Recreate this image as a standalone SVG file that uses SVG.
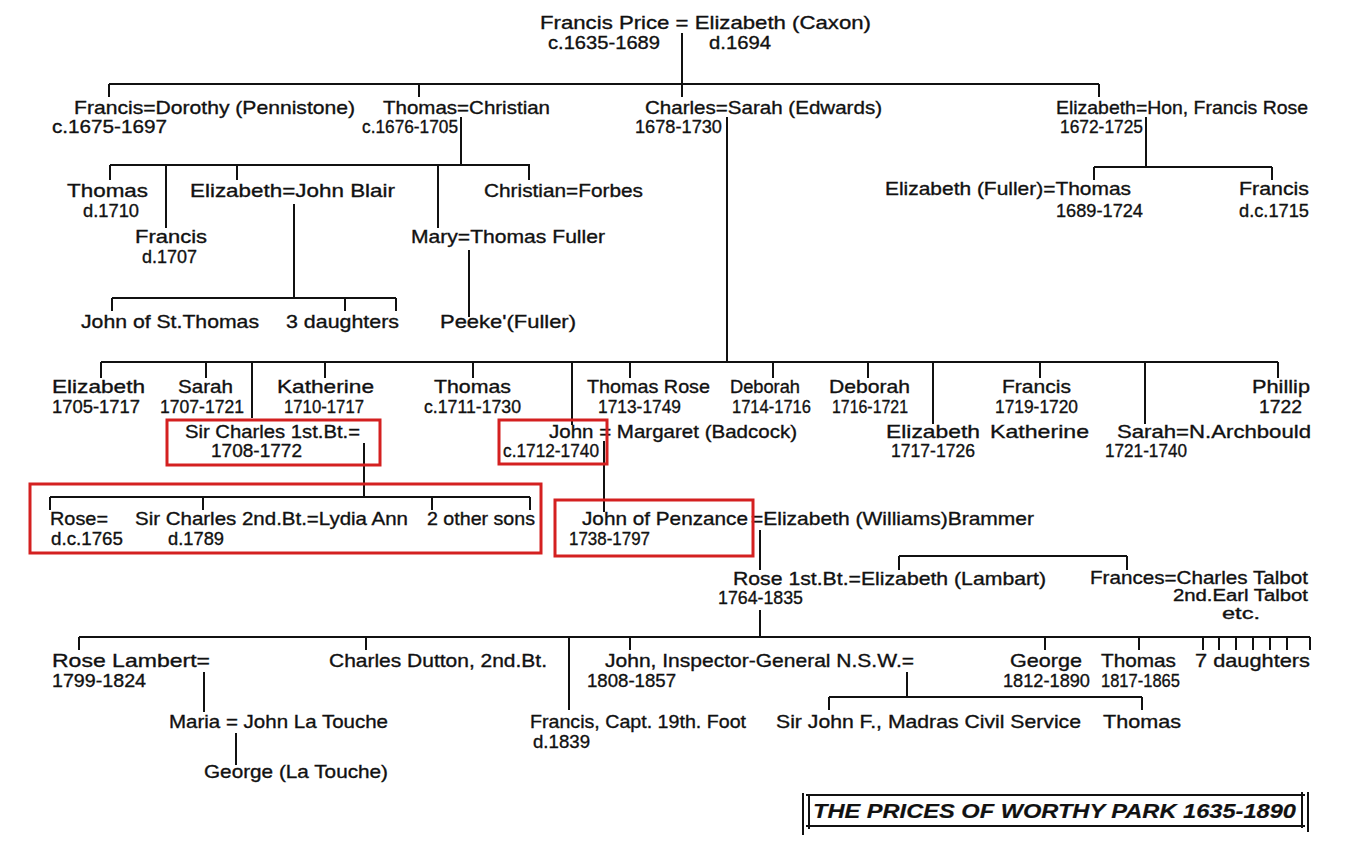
<svg xmlns="http://www.w3.org/2000/svg" width="1351" height="862" viewBox="0 0 1351 862">
<style>
text{font-family:"Liberation Sans",Arial,sans-serif;font-size:19px;fill:#111;stroke:#111;stroke-width:0.35}
.sm{font-size:16px}
.ln{stroke:#111;stroke-width:2;fill:none}
.box{stroke:#d42020;stroke-width:3;fill:none}
.title{font-family:"Liberation Sans",Arial,sans-serif;font-size:21px;font-weight:bold;font-style:italic;stroke-width:0.2}
</style>
<rect width="1351" height="862" fill="#fff"/>
<g id="connectors" class="ln">
<path d="M682 33V97M109 84H1099M109 84V97M419 84V97M1099 84V97"/>
<path d="M461 117V165M110 165H530M110 165V180M166 165V228M237 165V180M438 165V228M529 165V180"/>
<path d="M294 204V298M112 298H396M112 298V311M345 298V311M396 298V311M469 250V317"/>
<path d="M1146 117V167M1094 167H1272M1094 167V180M1272 167V180"/>
<path d="M727 117V362M101 362H1278M101 362V378M206 362V378M252 362V418M325 362V378M473 362V378M572 362V425M630 362V378M773 362V378M868 362V378M933 362V424M1040 362V378M1145 362V424M1278 362V378"/>
<path d="M364 443V497M50 497H530M50 497V510M203 497V510M432 497V510M530 497V510M604 441V512"/>
<path d="M760 530V570M899 556H1127M899 556V570M1127 556V570M760 610V637"/>
<path d="M79 637H1310M79 637V650M366 637V650M569 637V710M630 637V650M1045 637V650M1139 637V650M1203 637V650M1219 637V650M1236 637V650M1253 637V650M1270 637V650M1287 637V650M1310 637V650"/>
<path d="M204 672V712M236 733V765M907 672V697M829 697H1142M829 697V710M1142 697V710"/>
</g>
<g id="n-francis-price"><text x="540" y="29" lengthAdjust="spacingAndGlyphs" textLength="331">Francis Price = Elizabeth (Caxon)</text><text x="548" y="49" lengthAdjust="spacingAndGlyphs" textLength="112">c.1635-1689</text><text x="709" y="49" lengthAdjust="spacingAndGlyphs" textLength="62">d.1694</text></g>
<g id="n-francis"><text x="74" y="114" lengthAdjust="spacingAndGlyphs" textLength="281">Francis=Dorothy (Pennistone)</text><text x="52" y="133" lengthAdjust="spacingAndGlyphs" textLength="115">c.1675-1697</text></g>
<g id="n-thomas"><text x="383" y="114" lengthAdjust="spacingAndGlyphs" textLength="167">Thomas=Christian</text><text x="362" y="133" lengthAdjust="spacingAndGlyphs" textLength="96">c.1676-1705</text></g>
<g id="n-charles"><text x="645" y="114" lengthAdjust="spacingAndGlyphs" textLength="237">Charles=Sarah (Edwards)</text><text x="635" y="133" lengthAdjust="spacingAndGlyphs" textLength="87">1678-1730</text></g>
<g id="n-elizabeth-rose"><text x="1056" y="114" lengthAdjust="spacingAndGlyphs" textLength="252">Elizabeth=Hon, Francis Rose</text><text x="1060" y="133" lengthAdjust="spacingAndGlyphs" textLength="83">1672-1725</text></g>
<g id="n-thomas-d1710"><text x="67" y="197" lengthAdjust="spacingAndGlyphs" textLength="81">Thomas</text><text x="83" y="217" lengthAdjust="spacingAndGlyphs" textLength="56">d.1710</text></g>
<g id="n-francis-d1707"><text x="135" y="243" lengthAdjust="spacingAndGlyphs" textLength="72">Francis</text><text x="142" y="263" lengthAdjust="spacingAndGlyphs" textLength="55">d.1707</text></g>
<g id="n-elizabeth-blair"><text x="190" y="197" lengthAdjust="spacingAndGlyphs" textLength="205">Elizabeth=John Blair</text></g>
<g id="n-christian"><text x="484" y="197" lengthAdjust="spacingAndGlyphs" textLength="159">Christian=Forbes</text></g>
<g id="n-mary"><text x="411" y="243" lengthAdjust="spacingAndGlyphs" textLength="194">Mary=Thomas Fuller</text></g>
<g id="n-john-st-thomas"><text x="81" y="328" lengthAdjust="spacingAndGlyphs" textLength="178">John of St.Thomas</text></g>
<g id="n-3-daughters"><text x="286" y="328" lengthAdjust="spacingAndGlyphs" textLength="113">3 daughters</text></g>
<g id="n-peeke"><text x="440" y="328" lengthAdjust="spacingAndGlyphs" textLength="136">Peeke'(Fuller)</text></g>
<g id="n-elizabeth-fuller"><text x="885" y="195" lengthAdjust="spacingAndGlyphs" textLength="246">Elizabeth (Fuller)=Thomas</text><text x="1056" y="217" lengthAdjust="spacingAndGlyphs" textLength="87">1689-1724</text></g>
<g id="n-francis-rose"><text x="1239" y="195" lengthAdjust="spacingAndGlyphs" textLength="70">Francis</text><text x="1239" y="217" lengthAdjust="spacingAndGlyphs" textLength="70">d.c.1715</text></g>
<g id="n-elizabeth-1705"><text x="52" y="393" lengthAdjust="spacingAndGlyphs" textLength="93">Elizabeth</text><text x="52" y="413" lengthAdjust="spacingAndGlyphs" textLength="88">1705-1717</text></g>
<g id="n-sarah-1707"><text x="178" y="393" lengthAdjust="spacingAndGlyphs" textLength="55">Sarah</text><text x="160" y="413" lengthAdjust="spacingAndGlyphs" textLength="84">1707-1721</text></g>
<g id="n-katherine-1710"><text x="277" y="393" lengthAdjust="spacingAndGlyphs" textLength="97">Katherine</text><text x="284" y="413" lengthAdjust="spacingAndGlyphs" textLength="80">1710-1717</text></g>
<g id="n-thomas-1711"><text x="434" y="393" lengthAdjust="spacingAndGlyphs" textLength="77">Thomas</text><text x="424" y="413" lengthAdjust="spacingAndGlyphs" textLength="97">c.1711-1730</text></g>
<g id="n-thomas-rose"><text x="587" y="393" lengthAdjust="spacingAndGlyphs" textLength="123">Thomas Rose</text><text x="598" y="413" lengthAdjust="spacingAndGlyphs" textLength="83">1713-1749</text></g>
<g id="n-deborah-1714"><text x="730" y="393" lengthAdjust="spacingAndGlyphs" textLength="70">Deborah</text><text x="732" y="413" lengthAdjust="spacingAndGlyphs" textLength="79">1714-1716</text></g>
<g id="n-deborah-1716"><text x="829" y="393" lengthAdjust="spacingAndGlyphs" textLength="81">Deborah</text><text x="832" y="413" lengthAdjust="spacingAndGlyphs" textLength="76">1716-1721</text></g>
<g id="n-francis-1719"><text x="1002" y="393" lengthAdjust="spacingAndGlyphs" textLength="69">Francis</text><text x="995" y="413" lengthAdjust="spacingAndGlyphs" textLength="83">1719-1720</text></g>
<g id="n-phillip"><text x="1252" y="393" lengthAdjust="spacingAndGlyphs" textLength="58">Phillip</text><text x="1259" y="413" lengthAdjust="spacingAndGlyphs" textLength="43">1722</text></g>
<g id="n-sir-charles-1st"><text x="185" y="438" lengthAdjust="spacingAndGlyphs" textLength="175">Sir Charles 1st.Bt.=</text><text x="211" y="457" lengthAdjust="spacingAndGlyphs" textLength="91">1708-1772</text></g>
<g id="n-john-margaret"><text x="549" y="438" lengthAdjust="spacingAndGlyphs" textLength="248">John = Margaret (Badcock)</text><text x="503" y="457" lengthAdjust="spacingAndGlyphs" textLength="96">c.1712-1740</text></g>
<g id="n-elizabeth-1717"><text x="886" y="438" lengthAdjust="spacingAndGlyphs" textLength="94">Elizabeth</text><text x="891" y="457" lengthAdjust="spacingAndGlyphs" textLength="84">1717-1726</text></g>
<g id="n-katherine"><text x="990" y="438" lengthAdjust="spacingAndGlyphs" textLength="99">Katherine</text></g>
<g id="n-sarah-archbould"><text x="1117" y="438" lengthAdjust="spacingAndGlyphs" textLength="194">Sarah=N.Archbould</text><text x="1105" y="457" lengthAdjust="spacingAndGlyphs" textLength="82">1721-1740</text></g>
<g id="n-rose-dc1765"><text x="50" y="525" lengthAdjust="spacingAndGlyphs" textLength="58">Rose=</text><text x="51" y="545" lengthAdjust="spacingAndGlyphs" textLength="72">d.c.1765</text></g>
<g id="n-sir-charles-2nd"><text x="135" y="525" lengthAdjust="spacingAndGlyphs" textLength="273">Sir Charles 2nd.Bt.=Lydia Ann</text><text x="168" y="545" lengthAdjust="spacingAndGlyphs" textLength="56">d.1789</text></g>
<g id="n-2-other-sons"><text x="427" y="525" lengthAdjust="spacingAndGlyphs" textLength="108">2 other sons</text></g>
<g id="n-john-penzance"><text x="582" y="525" lengthAdjust="spacingAndGlyphs" textLength="166">John of Penzance</text><text x="751" y="525" lengthAdjust="spacingAndGlyphs" textLength="283">=Elizabeth (Williams)Brammer</text><text x="569" y="545" lengthAdjust="spacingAndGlyphs" textLength="81">1738-1797</text></g>
<g id="n-rose-1st"><text x="733" y="585" lengthAdjust="spacingAndGlyphs" textLength="313">Rose 1st.Bt.=Elizabeth (Lambart)</text><text x="718" y="604" lengthAdjust="spacingAndGlyphs" textLength="85">1764-1835</text></g>
<g id="n-frances"><text x="1090" y="584" lengthAdjust="spacingAndGlyphs" textLength="218">Frances=Charles Talbot</text><text class="sm" x="1173" y="601" lengthAdjust="spacingAndGlyphs" textLength="135">2nd.Earl Talbot</text><text class="sm" x="1222" y="619" lengthAdjust="spacingAndGlyphs" textLength="38">etc.</text></g>
<g id="n-rose-lambert"><text x="52" y="667" lengthAdjust="spacingAndGlyphs" textLength="158">Rose Lambert=</text><text x="52" y="687" lengthAdjust="spacingAndGlyphs" textLength="94">1799-1824</text></g>
<g id="n-charles-dutton"><text x="329" y="667" lengthAdjust="spacingAndGlyphs" textLength="218">Charles Dutton, 2nd.Bt.</text></g>
<g id="n-john-inspector"><text x="605" y="667" lengthAdjust="spacingAndGlyphs" textLength="309">John, Inspector-General N.S.W.=</text><text x="587" y="687" lengthAdjust="spacingAndGlyphs" textLength="89">1808-1857</text></g>
<g id="n-george-1812"><text x="1010" y="667" lengthAdjust="spacingAndGlyphs" textLength="72">George</text><text x="1003" y="687" lengthAdjust="spacingAndGlyphs" textLength="87">1812-1890</text></g>
<g id="n-thomas-1817"><text x="1101" y="667" lengthAdjust="spacingAndGlyphs" textLength="75">Thomas</text><text x="1101" y="687" lengthAdjust="spacingAndGlyphs" textLength="79">1817-1865</text></g>
<g id="n-7-daughters"><text x="1195" y="667" lengthAdjust="spacingAndGlyphs" textLength="115">7 daughters</text></g>
<g id="n-maria"><text x="169" y="728" lengthAdjust="spacingAndGlyphs" textLength="219">Maria = John La Touche</text></g>
<g id="n-george-latouche"><text x="204" y="778" lengthAdjust="spacingAndGlyphs" textLength="184">George (La Touche)</text></g>
<g id="n-francis-capt"><text x="530" y="728" lengthAdjust="spacingAndGlyphs" textLength="216">Francis, Capt. 19th. Foot</text><text x="533" y="748" lengthAdjust="spacingAndGlyphs" textLength="57">d.1839</text></g>
<g id="n-sir-john-f"><text x="776" y="728" lengthAdjust="spacingAndGlyphs" textLength="305">Sir John F., Madras Civil Service</text></g>
<g id="n-thomas-madras"><text x="1103" y="728" lengthAdjust="spacingAndGlyphs" textLength="78">Thomas</text></g>
<g id="title">
<path class="ln" d="M806 795H1305M806 826H1305M803 793V835M809 795V829M1302 792V828M1308 792V832"/>
<text class="title" x="813" y="818" lengthAdjust="spacingAndGlyphs" textLength="483">THE PRICES OF WORTHY PARK 1635-1890</text>
</g>
<g id="highlights">
<rect class="box" x="167" y="420" width="213" height="45"/>
<rect class="box" x="499" y="420" width="108" height="44"/>
<rect class="box" x="30" y="484" width="511" height="69"/>
<rect class="box" x="555" y="500" width="198" height="56"/>
</g>
</svg>
